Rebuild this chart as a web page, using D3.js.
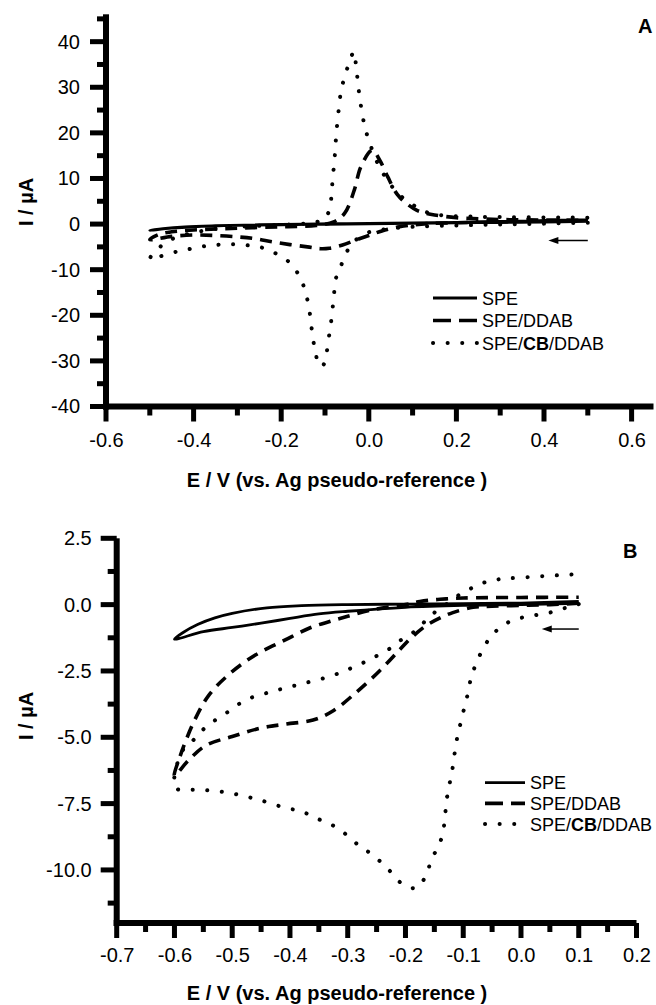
<!DOCTYPE html>
<html>
<head>
<meta charset="utf-8">
<title>CV curves</title>
<script src="https://d3js.org/d3.v7.min.js"></script>
<style>
  body { margin: 0; background: #fff; }
  svg { display: block; font-family: "Liberation Sans", Arial, sans-serif; }
</style>
</head>
<body>
<svg id="chart" width="656" height="1005"></svg>
<script>
// ---- data: [E (V), I (uA)], scan starts at the positive end going negative ----
const aSpe = [[0.5,0.6],[0.4,0.45],[0.3,0.35],[0.2,0.25],[0.1,0.15],[0,0.05],[-0.1,-0.05],[-0.2,-0.15],[-0.3,-0.3],[-0.4,-0.6],[-0.45,-0.9],[-0.5,-1.4],
  [-0.47,-1.0],[-0.42,-0.6],[-0.35,-0.35],[-0.25,-0.15],[-0.15,0],[-0.05,0.1],[0.05,0.2],[0.15,0.3],[0.25,0.4],[0.35,0.5],[0.45,0.7],[0.5,0.8]];
const aDdab = [[0.5,0.9],[0.4,0.7],[0.3,0.5],[0.2,0.3],[0.12,0],[0.07,-0.6],[0.03,-1.5],[0,-2.5],[-0.03,-3.5],[-0.06,-4.6],[-0.09,-5.3],[-0.11,-5.4],[-0.14,-5.0],[-0.18,-4.5],[-0.22,-3.9],[-0.26,-3.2],[-0.3,-2.8],[-0.35,-2.5],[-0.4,-2.4],[-0.45,-2.7],[-0.5,-3.4],
  [-0.48,-2.3],[-0.45,-1.7],[-0.4,-1.3],[-0.3,-0.9],[-0.2,-0.6],[-0.12,-0.3],[-0.08,0.5],[-0.055,2.4],[-0.033,7.5],[-0.018,12.6],[0.008,16.2],[0.025,14],[0.043,10.4],[0.065,6.5],[0.085,4.6],[0.11,3],[0.13,2.4],[0.15,2],[0.2,1.4],[0.3,1.0],[0.4,0.9],[0.5,0.9]];
const aCbDdab = [[0.5,0.3],[0.4,0.1],[0.3,-0.1],[0.2,-0.3],[0.1,-0.6],[0.05,-1.0],[0,-1.8],[-0.03,-3.5],[-0.048,-5.7],[-0.063,-9],[-0.075,-11.9],[-0.08,-16],[-0.086,-21.4],[-0.091,-24.7],[-0.098,-29],[-0.106,-31.2],[-0.114,-30.8],[-0.122,-28],[-0.128,-24.7],[-0.137,-18.1],[-0.145,-14.8],[-0.156,-11.9],[-0.179,-8.6],[-0.213,-6.4],[-0.25,-5.0],[-0.284,-4.6],[-0.318,-4.4],[-0.352,-4.6],[-0.386,-5],[-0.42,-5.7],[-0.455,-6.4],[-0.5,-7.7],
  [-0.48,-5.3],[-0.45,-3.3],[-0.39,-1.7],[-0.34,-0.9],[-0.28,-0.5],[-0.2,-0.2],[-0.14,0.2],[-0.105,0.9],[-0.095,2],[-0.088,3.8],[-0.085,6.8],[-0.082,10.4],[-0.078,14.5],[-0.074,20],[-0.068,25.7],[-0.063,29.4],[-0.055,32.3],[-0.044,35.6],[-0.034,37.8],[-0.029,34.5],[-0.025,31.2],[-0.021,27.9],[-0.01,21.7],[0,18.4],[0.02,13.4],[0.047,9],[0.075,6],[0.108,3.8],[0.135,2.5],[0.17,1.9],[0.25,1.6],[0.35,1.5],[0.5,1.4]];

const bSpe = [[0.1,0.05],[0,0],[-0.1,-0.03],[-0.2,-0.1],[-0.3,-0.25],[-0.35,-0.35],[-0.4,-0.52],[-0.45,-0.7],[-0.5,-0.86],[-0.55,-1.02],[-0.6,-1.3],
  [-0.585,-1.05],[-0.56,-0.75],[-0.53,-0.5],[-0.5,-0.33],[-0.44,-0.12],[-0.38,-0.04],[-0.3,0],[-0.2,0.02],[-0.1,0.04],[0,0.06],[0.1,0.12]];
const bDdab = [[0.1,0.05],[0.05,0],[0,-0.03],[-0.05,-0.06],[-0.083,-0.1],[-0.118,-0.3],[-0.14,-0.5],[-0.165,-0.8],[-0.19,-1.25],[-0.21,-1.7],[-0.245,-2.5],[-0.285,-3.3],[-0.325,-4.0],[-0.36,-4.35],[-0.406,-4.5],[-0.45,-4.65],[-0.5,-4.97],[-0.545,-5.3],[-0.575,-5.85],[-0.6,-6.45],
  [-0.59,-5.7],[-0.565,-4.35],[-0.54,-3.4],[-0.504,-2.6],[-0.46,-1.9],[-0.41,-1.35],[-0.365,-0.87],[-0.33,-0.63],[-0.3,-0.44],[-0.256,-0.19],[-0.2,0],[-0.175,0.12],[-0.14,0.2],[-0.1,0.25],[0,0.27],[0.1,0.28]];
const bCbDdab = [[0.1,0.02],[0.076,-0.13],[0.05,-0.3],[0.024,-0.4],[0,-0.5],[-0.025,-0.7],[-0.048,-1.1],[-0.065,-1.63],[-0.077,-2.2],[-0.086,-2.7],[-0.091,-3.27],[-0.097,-3.77],[-0.103,-4.34],[-0.109,-4.84],[-0.113,-5.35],[-0.117,-5.9],[-0.12,-6.4],[-0.126,-6.98],[-0.132,-8.04],[-0.135,-8.6],[-0.143,-9.11],[-0.155,-9.6],[-0.164,-10.18],[-0.181,-10.68],[-0.207,-10.5],[-0.23,-9.97],[-0.256,-9.45],[-0.28,-9.09],[-0.306,-8.61],[-0.33,-8.27],[-0.356,-8.04],[-0.38,-7.79],[-0.406,-7.67],[-0.455,-7.35],[-0.504,-7.1],[-0.553,-6.98],[-0.6,-6.9],
  [-0.598,-6.3],[-0.59,-5.66],[-0.579,-5.3],[-0.567,-5.1],[-0.545,-4.6],[-0.51,-4.08],[-0.475,-3.58],[-0.43,-3.27],[-0.382,-3.0],[-0.33,-2.7],[-0.306,-2.5],[-0.28,-2.26],[-0.256,-2.0],[-0.23,-1.7],[-0.207,-1.32],[-0.18,-0.94],[-0.158,-0.44],[-0.13,0.0],[-0.106,0.38],[-0.081,0.67],[-0.057,0.88],[-0.032,0.97],[0,1.02],[0.044,1.08],[0.1,1.15]];

const seriesNames = ["SPE", "SPE/DDAB", "SPE/CB/DDAB"];

// tick values
const aXMajor = [-0.6, -0.4, -0.2, 0.0, 0.2, 0.4, 0.6];
const aXMinor = [-0.5, -0.3, -0.1, 0.1, 0.3, 0.5];
const aYMajor = [-40, -30, -20, -10, 0, 10, 20, 30, 40];
const aYMinor = [-35, -25, -15, -5, 5, 15, 25, 35, 45];
const bXMajor = [-0.7, -0.6, -0.5, -0.4, -0.3, -0.2, -0.1, 0.0, 0.1, 0.2];
const bXMinor = [-0.65, -0.55, -0.45, -0.35, -0.25, -0.15, -0.05, 0.05, 0.15];
const bYMajor = [-10.0, -7.5, -5.0, -2.5, 0.0, 2.5];
const bYMinor = [-11.25, -8.75, -6.25, -3.75, -1.25, 1.25];

const svg = d3.select("#chart");
const fmt1 = d => d3.format(".1f")(d).replace("\u2212", "-");
const fmt0 = d => d3.format("d")(d).replace("\u2212", "-");

const styles = [
  { width: 2.8, dash: null, legendDash: null },
  { width: 3.6, dash: "12 8", legendDash: "18 8" },
  { width: 4, dash: "0.1 14.5", legendDash: "0.1 14.5" }
];
const AXW = 6;   // axis line thickness
const TKW = 5;   // tick thickness

function panel(cfg) {
  const x = d3.scaleLinear().domain(cfg.xDomain).range(cfg.xRange);
  const y = d3.scaleLinear().domain(cfg.yDomain).range(cfg.yRange);
  const g = svg.append("g");
  const x0 = cfg.xRange[0], y0 = cfg.yRange[0];

  // tick labels through d3 axes (tick marks drawn as filled rects below)
  const xAx = g.append("g").attr("transform", `translate(0,${y0})`)
    .call(d3.axisBottom(x).tickValues(cfg.xMajor).tickSize(0).tickPadding(cfg.xTick + cfg.xPad).tickFormat(fmt1));
  const yAx = g.append("g").attr("transform", `translate(${x0},0)`)
    .call(d3.axisLeft(y).tickValues(cfg.yMajor).tickSize(0).tickPadding(16 + cfg.yPad).tickFormat(cfg.yFmt));
  [xAx, yAx].forEach(a => {
    a.select(".domain").remove();
    a.selectAll("text").attr("font-size", 20).attr("fill", "#000");
  });

  const marks = g.append("g").attr("fill", "#000");
  // axis lines
  marks.append("rect").attr("x", x0 - AXW / 2).attr("y", y0 - AXW / 2)
    .attr("width", cfg.xRange[1] - x0 + AXW / 2).attr("height", AXW);
  marks.append("rect").attr("x", x0 - AXW / 2).attr("y", cfg.yRange[1])
    .attr("width", AXW).attr("height", y0 - cfg.yRange[1] + AXW / 2);
  // x ticks
  marks.selectAll(".xt").data(cfg.xMajor.map(v => [v, cfg.xTick]).concat(cfg.xMinor.map(v => [v, 9])))
    .join("rect").attr("x", d => x(d[0]) - TKW / 2).attr("y", y0).attr("width", TKW).attr("height", d => d[1]);
  // y ticks
  marks.selectAll(".yt").data(cfg.yMajor.map(v => [v, 16]).concat(cfg.yMinor.map(v => [v, 9])))
    .join("rect").attr("x", d => x0 - d[1]).attr("y", d => y(d[0]) - TKW / 2).attr("width", d => d[1]).attr("height", TKW);

  // curves
  const line = d3.line().x(d => x(d[0])).y(d => y(d[1])).curve(d3.curveCatmullRom.alpha(0.5));
  cfg.data.forEach((d, i) => {
    g.append("path").attr("d", line(d)).attr("fill", "none").attr("stroke", "#000")
      .attr("stroke-width", styles[i].width)
      .attr("stroke-dasharray", styles[i].dash)
      .attr("stroke-linecap", i === 2 ? "round" : "butt")
      .attr("stroke-linejoin", "round");
  });

  // scan direction arrow
  const ax1 = x(cfg.arrow[0]), ax2 = x(cfg.arrow[1]), ay = y(cfg.arrow[2]);
  g.append("line").attr("x1", ax1 + 6).attr("x2", ax2).attr("y1", ay).attr("y2", ay)
    .attr("stroke", "#000").attr("stroke-width", 1.5);
  g.append("path").attr("d", `M${ax1},${ay} l10,-3.5 l0,7 z`).attr("fill", "#000");

  // legend
  cfg.data.forEach((d, i) => {
    const ly = cfg.legend.y + i * cfg.legend.step;
    g.append("line").attr("x1", cfg.legend.x1).attr("x2", cfg.legend.x2).attr("y1", ly).attr("y2", ly)
      .attr("stroke", "#000").attr("stroke-width", styles[i].width)
      .attr("stroke-dasharray", styles[i].legendDash)
      .attr("stroke-linecap", i === 2 ? "round" : "butt");
    const t = g.append("text").attr("x", cfg.legend.x2 + 5).attr("y", ly + 6.5).attr("font-size", 18);
    if (i === 2) {
      t.append("tspan").text("SPE/");
      t.append("tspan").attr("font-weight", "bold").text("CB");
      t.append("tspan").text("/DDAB");
    } else {
      t.text(seriesNames[i]);
    }
  });

  // titles
  g.append("text").attr("x", cfg.tag[0]).attr("y", cfg.tag[1]).attr("font-size", 20)
    .attr("font-weight", "bold").text(cfg.tagText);
  g.append("text").attr("x", cfg.xLabel[0]).attr("y", cfg.xLabel[1]).attr("text-anchor", "middle")
    .attr("font-size", 20).attr("font-weight", "bold").text("E / V (vs. Ag pseudo-reference )");
  g.append("text").attr("transform", `translate(${cfg.yLabel[0]},${cfg.yLabel[1]}) rotate(-90)`)
    .attr("text-anchor", "middle").attr("font-size", 20).attr("font-weight", "bold").text("I / \u00b5A");
}

panel({
  xDomain: [-0.6, 0.65], xRange: [106, 653.5],
  yDomain: [-40, 46], yRange: [406.5, 14.3],
  xMajor: aXMajor, xMinor: aXMinor, yMajor: aYMajor, yMinor: aYMinor,
  xTick: 15, xPad: 11, yPad: 10, yFmt: fmt0,
  data: [aSpe, aDdab, aCbDdab],
  arrow: [0.41, 0.5, -3.6],
  legend: { x1: 433, x2: 477, y: 298, step: 22.5 },
  tag: [638, 33], tagText: "A",
  xLabel: [337, 487], yLabel: [33, 202]
});

panel({
  xDomain: [-0.7, 0.2], xRange: [116.7, 636.5],
  yDomain: [-12, 2.5], yRange: [923, 538.3],
  xMajor: bXMajor, xMinor: bXMinor, yMajor: bYMajor, yMinor: bYMinor,
  xTick: 15, xPad: 10, yPad: 9, yFmt: fmt1,
  data: [bSpe, bDdab, bCbDdab],
  arrow: [0.036, 0.1, -0.92],
  legend: { x1: 485, x2: 525, y: 782.7, step: 20.7 },
  tag: [623, 558], tagText: "B",
  xLabel: [337, 1000], yLabel: [33, 716]
});
</script>
</body>
</html>
